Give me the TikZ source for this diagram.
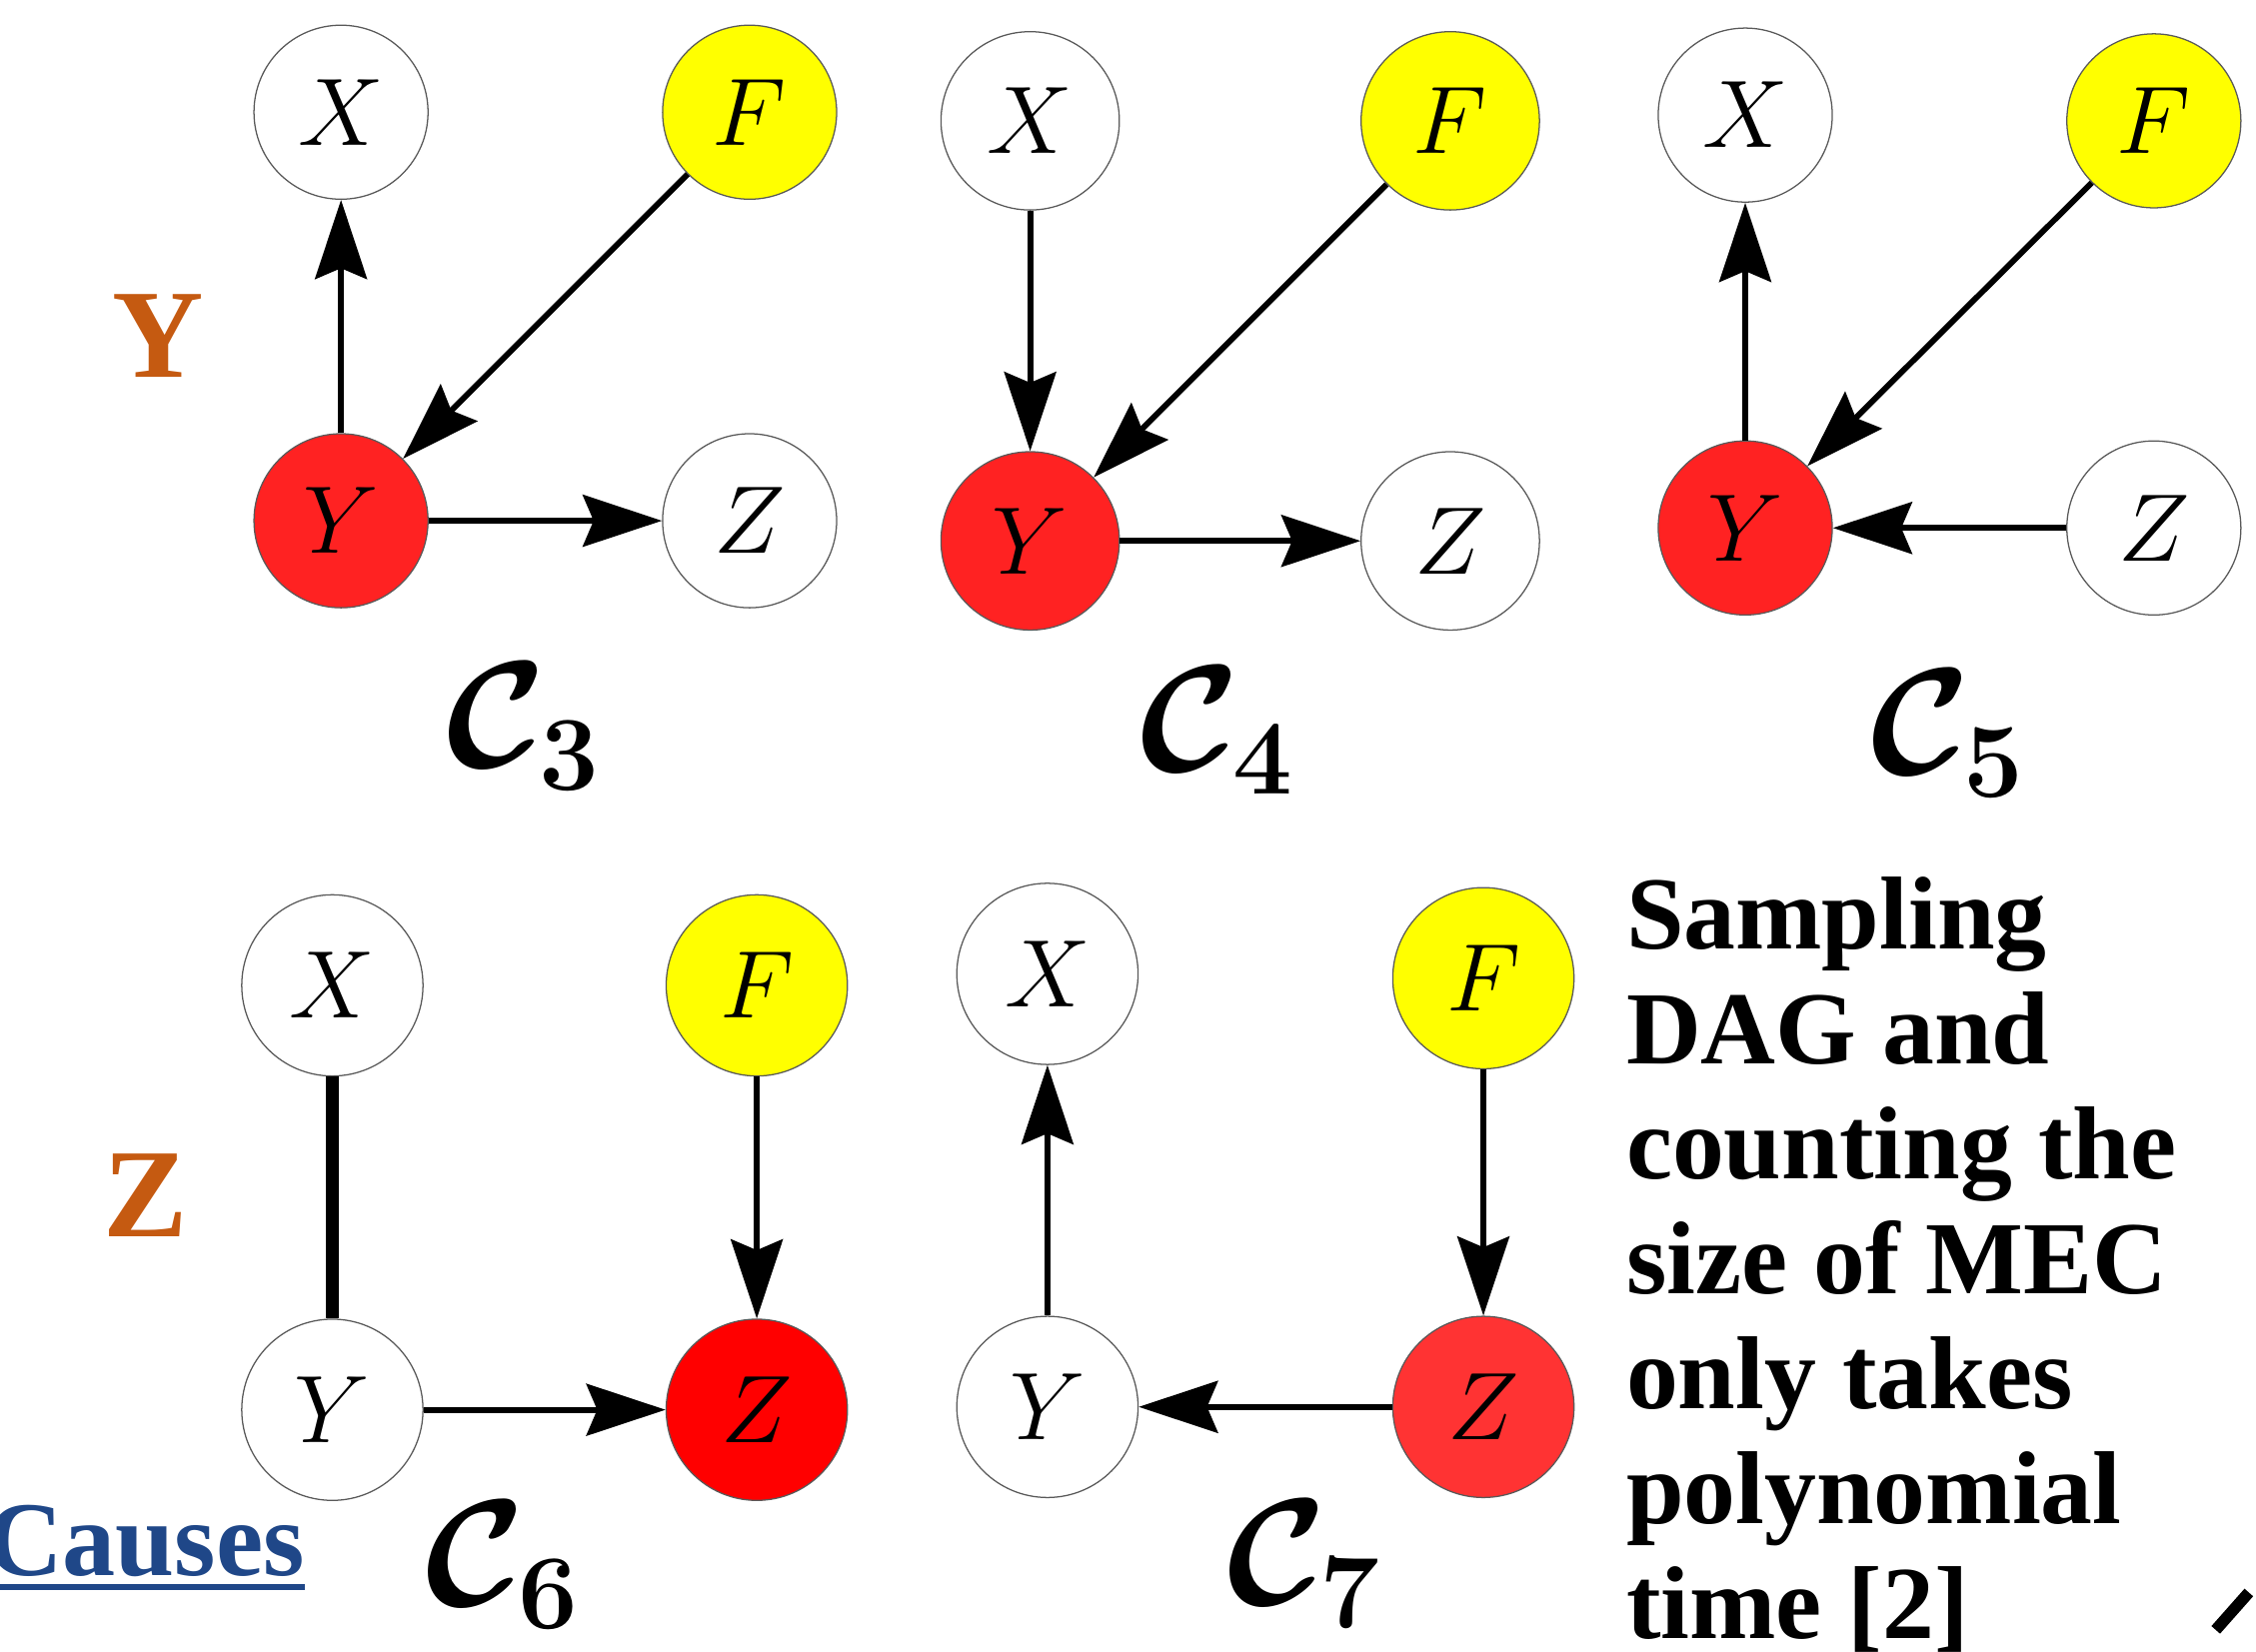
\RequirePackage{fix-cm}
\documentclass[tikz,border=0pt]{standalone}
\usepackage{fontspec}
\setmainfont{Liberation Serif}
\usetikzlibrary{arrows.meta}

\definecolor{rowlab}{HTML}{C55A11}
\definecolor{linkblue}{HTML}{1F4788}
\definecolor{nodered}{HTML}{FF2222}
\definecolor{nodeyel}{HTML}{FFFF00}

\begin{document}
\begin{tikzpicture}[x=0.02cm,y=-0.02cm,
  var/.style={circle,draw=black!65,line width=0.5pt,inner sep=0pt,minimum size=2.42cm,font=\fontsize{38}{40}\selectfont},
  big/.style={minimum size=2.52cm},
  arr/.style={line width=2.3pt,-{Stealth[length=1.1cm,width=0.72cm,inset=0.15cm]}},
  graphname/.style={font=\fontsize{60}{60}\selectfont\boldmath},
  rowname/.style={text=rowlab,font=\fontsize{50}{50}\selectfont\bfseries,anchor=base}]
\useasboundingbox (0,0) rectangle (1568,1148);
\clip (0,0) rectangle (1568,1148);

% Row names
\node[rowname] (rowy) at (110,262) {Y};
\node[rowname] (rowz) at (101,860) {Z};

% C3
\node[var] (c3x) at (237,78) {$X$};
\node[var,fill=nodeyel] (c3f) at (521,78) {$F$};
\node[var,fill=nodered] (c3y) at (237,362) {$Y$};
\node[var] (c3z) at (521,362) {$Z$};
\draw[arr] (c3y) -- (c3x);
\draw[arr] (c3f) -- (c3y);
\draw[arr] (c3y) -- (c3z);
\node[graphname] (c3) at (364,505) {$\mathcal{C}_3$};

% C4
\node[var,minimum size=2.48cm] (c4x) at (716,84) {$X$};
\node[var,minimum size=2.48cm,fill=nodeyel] (c4f) at (1008,84) {$F$};
\node[var,minimum size=2.48cm,fill=nodered] (c4y) at (716,376) {$Y$};
\node[var,minimum size=2.48cm] (c4z) at (1008,376) {$Z$};
\draw[arr] (c4x) -- (c4y);
\draw[arr] (c4f) -- (c4y);
\draw[arr] (c4y) -- (c4z);
\node[graphname] (c4) at (846,508) {$\mathcal{C}_4$};

% C5
\node[var] (c5x) at (1213,80) {$X$};
\node[var,fill=nodeyel] (c5f) at (1497,84) {$F$};
\node[var,fill=nodered] (c5y) at (1213,367) {$Y$};
\node[var] (c5z) at (1497,367) {$Z$};
\draw[arr] (c5y) -- (c5x);
\draw[arr] (c5f) -- (c5y);
\draw[arr] (c5z) -- (c5y);
\node[graphname] (c5) at (1354,510) {$\mathcal{C}_5$};

% C6
\node[var,big] (c6x) at (231,685) {$X$};
\node[var,big,fill=nodeyel] (c6f) at (526,685) {$F$};
\node[var,big] (c6y) at (231,980) {$Y$};
\node[var,big,fill=red] (c6z) at (526,980) {$Z$};
\draw[line width=5pt] (c6x) -- (c6y);
\draw[arr] (c6f) -- (c6z);
\draw[arr] (c6y) -- (c6z);
\node[graphname] (c6) at (349,1088) {$\mathcal{C}_6$};

% C7
\node[var,big] (c7x) at (728,677) {$X$};
\node[var,big,fill=nodeyel] (c7f) at (1031,680) {$F$};
\node[var,big] (c7y) at (728,978) {$Y$};
\node[var,big,fill=red!80!white] (c7z) at (1031,978) {$Z$};
\draw[arr] (c7y) -- (c7x);
\draw[arr] (c7f) -- (c7z);
\draw[arr] (c7z) -- (c7y);
\node[graphname] (c7) at (906,1087) {$\mathcal{C}_7$};

% Note
\node[anchor=north west,inner sep=0pt,align=left,font=\fontsize{41}{45.5}\selectfont\bfseries] (note) at (1130,609)
  {Sampling\\DAG and\\counting the\\size of MEC\\only takes\\polynomial\\time [2]};

% Link at the bottom
\node[anchor=base west,inner sep=0pt,text=linkblue,font=\fontsize{42}{42}\selectfont\bfseries] (causes) at (-10,1095) {Causes};
\draw[linkblue,line width=0.08cm] ([yshift=-0.16cm]causes.base west) -- ([yshift=-0.16cm]causes.base east);

% Corner mark
\draw[line width=0.16cm] (1540,1133) -- (1563,1107);
\end{tikzpicture}
\end{document}
